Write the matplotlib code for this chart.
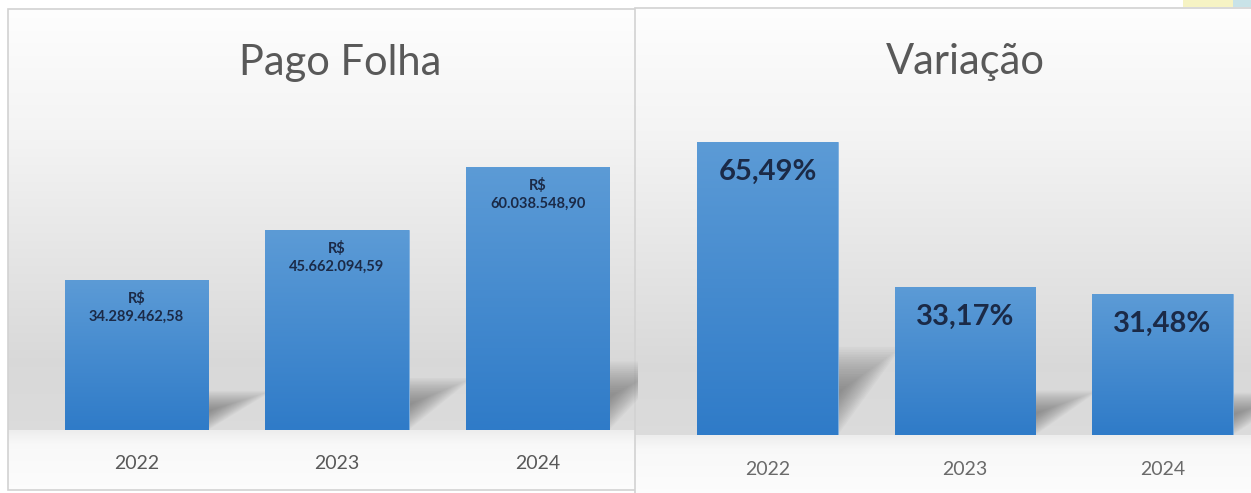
import numpy as np
import matplotlib.pyplot as plt
from matplotlib.colors import LinearSegmentedColormap
from matplotlib.patches import Rectangle, Polygon

anos = ["2022", "2023", "2024"]
pago_folha = [34289462.58, 45662094.59, 60038548.90]
pago_rotulos = ["R$\n34.289.462,58", "R$\n45.662.094,59", "R$\n60.038.548,90"]
variacao = [65.49, 33.17, 31.48]
variacao_rotulos = ["65,49%", "33,17%", "31,48%"]

W, H = 1251, 493
plt.rcParams['font.family'] = ['Lato', 'DejaVu Sans']

fig = plt.figure(figsize=(W / 100, H / 100), dpi=100)
fig.patch.set_facecolor("white")

azul = LinearSegmentedColormap.from_list("azul", ["#2f7bc8", "#5c9bd6"])


def px_axes(x0, y0, x1, y1, z=0):
    # pixel box, measured from the top-left corner
    return fig.add_axes([x0 / W, 1 - y1 / H, (x1 - x0) / W, (y1 - y0) / H], zorder=z)


def painel(x0, y0, x1, y1, base):
    ax = px_axes(x0, y0, x1, y1)
    ys = np.arange(y0, y1)
    topo = [y0, y0 + 0.3 * (base - y0), base - 70, base - 1]
    tons = [0.995, 0.955, 0.85, 0.86]
    g = np.where(ys < base, np.interp(ys, topo, tons),
                 np.interp(ys, [base, base + 14, y1], [0.93, 0.975, 0.99]))
    img = np.repeat(g[:, None], 3, axis=1)[:, :, None].repeat(3, axis=2)
    ax.imshow(img, extent=[0, 1, 0, 1], aspect="auto", interpolation="bilinear")
    ax.set_xlim(0, 1)
    ax.set_ylim(0, 1)
    ax.axis("off")
    ax.add_patch(Rectangle((0, 0), 1, 1, transform=ax.transAxes, fill=False,
                           edgecolor="#d2d2d2", lw=1.2, clip_on=False))
    return ax


def barras(ax, valores, rotulos, dx, fator, fs, desloc, ymax):
    x = np.arange(len(valores))
    largura = 0.713
    # sombra difusa atras de cada barra
    for xi, v in zip(x, valores):
        xl, xr = xi - largura / 2, xi + largura / 2
        dy = fator * v
        n = 18
        for k in range(n):
            a = 0.45 * k / n
            b = 1 - 0.5 * k / n
            ins = 0.15 * k / n
            ax.add_patch(Polygon([(xl + dx * a, dy * a), (xr + dx * a - ins, dy * a),
                                  (xr + dx * b - ins, dy * b), (xl + dx * b, dy * b)],
                                 closed=True, facecolor="#555555", edgecolor="none",
                                 alpha=0.04, zorder=1))
    bars = ax.bar(x, valores, width=largura, color="#4a8ccf", edgecolor="#7fb0e0",
                  lw=0.6, zorder=2)
    grad = np.linspace(1, 0, 256).reshape(-1, 1)
    for b in bars:
        im = ax.imshow(grad, extent=[b.get_x(), b.get_x() + b.get_width(), 0, b.get_height()],
                       aspect="auto", cmap=azul, zorder=3)
        im.set_clip_path(b)
    for xi, v, r in zip(x, valores, rotulos):
        ax.annotate(r, (xi, v), xytext=(0, desloc), textcoords="offset points",
                    ha="center", va="top", fontsize=fs, fontweight="bold",
                    color="#1b2a47", linespacing=1.35, zorder=4)
    ax.set_xlim(-0.5, 2.5)
    ax.set_ylim(0, ymax)
    ax.set_facecolor("none")
    for s in ax.spines.values():
        s.set_visible(False)
    ax.set_yticks([])
    ax.set_xticks(x)
    ax.set_xticklabels(anos, fontsize=14, color="#595959")
    ax.tick_params(axis="x", length=0, pad=18)


# painel esquerdo: Pago Folha
painel(8, 9, 637, 490, 430)
ax1 = px_axes(36, 430 - 70 * 4.38, 638, 430, z=2)
barras(ax1, [v / 1e6 for v in pago_folha], pago_rotulos, 0.32, 0.26, 10.5, -8, 70)
fig.text(340 / W, 1 - 63 / H, "Pago Folha", ha="center", va="center",
         fontsize=30, color="#595959")

# painel direito: Variação
painel(635, 8, 1252, 494, 435)
ax2 = px_axes(668.75, 435 - 70 * 4.47, 1261.25, 435, z=2)
barras(ax2, variacao, variacao_rotulos, 0.32, 0.3, 21, -12, 70)
for t in ax2.get_xticklabels():
    t.set_color("#6a6a6a")
ax2.tick_params(axis="x", pad=19)
fig.text(965 / W, 1 - 62 / H, "Variação", ha="center", va="center",
         fontsize=30, color="#595959")

# pequeno detalhe colorido no canto superior direito
fig.patches.append(Rectangle((1183 / W, 1 - 7 / H), 50 / W, 7 / H, transform=fig.transFigure,
                             facecolor="#f6f3c4", edgecolor="none", zorder=5))
fig.patches.append(Rectangle((1233 / W, 1 - 7 / H), 18 / W, 7 / H, transform=fig.transFigure,
                             facecolor="#c9e3e8", edgecolor="none", zorder=5))

fig.savefig("out.png", dpi=100)
